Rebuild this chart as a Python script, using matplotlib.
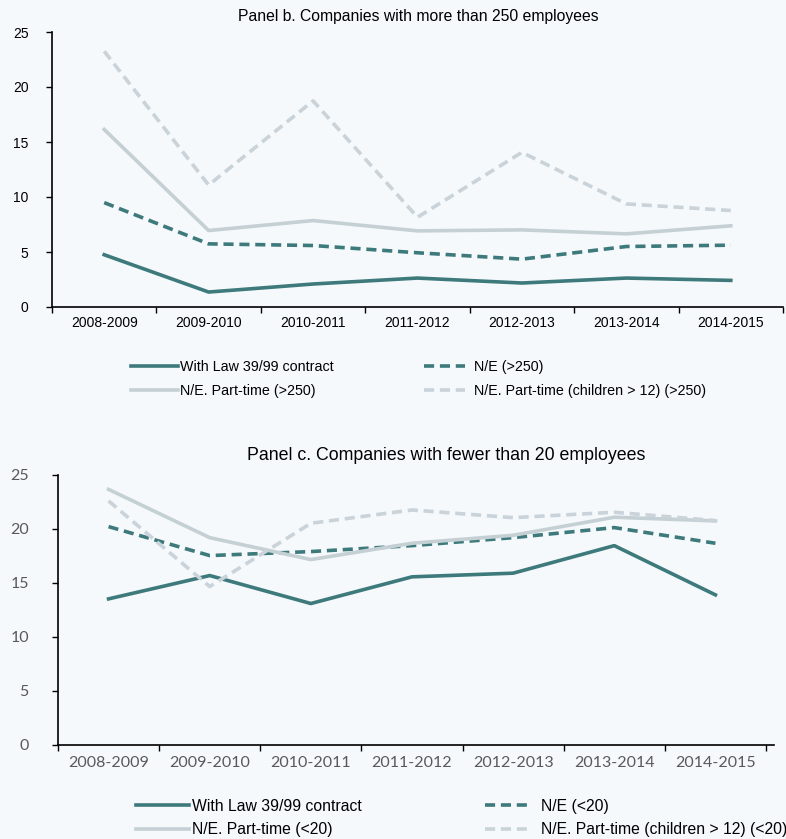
import matplotlib
matplotlib.use("Agg")
import matplotlib.pyplot as plt
import numpy as np

periods = ["2008-2009", "2009-2010", "2010-2011", "2011-2012", "2012-2013", "2013-2014", "2014-2015"]

# Panel b (>250 employees)
b_law = [4.75, 1.36, 2.09, 2.63, 2.18, 2.63, 2.42]
b_ne = [9.49, 5.74, 5.59, 4.93, 4.35, 5.50, 5.62]
b_pt = [16.14, 6.95, 7.86, 6.92, 7.01, 6.65, 7.38]
b_ch = [23.25, 11.09, 18.74, 8.16, 14.06, 9.37, 8.77]
b_labels = ["With Law 39/99 contract", "N/E (>250)", "N/E. Part-time (>250)",
            "N/E. Part-time (children > 12) (>250)"]

# Panel c (<20 employees)
c_law = [13.53, 15.69, 13.10, 15.57, 15.91, 18.46, 13.90]
c_ne = [20.22, 17.54, 17.91, 18.46, 19.20, 20.13, 18.68]
c_pt = [23.67, 19.20, 17.17, 18.68, 19.42, 21.09, 20.75]
c_ch = [22.60, 14.67, 20.53, 21.76, 21.05, 21.55, 20.78]
c_labels = ["With Law 39/99 contract", "N/E (<20)", "N/E. Part-time (<20)",
            "N/E. Part-time (children > 12) (<20)"]

yticks = [0, 5, 10, 15, 20, 25]

BG = "#f5f9fb"
DARK = "#3e7a7c"
LIGHT = "#c5d0d5"
LIGHTD = "#c9d3d9"
W, H = 786, 839

fig = plt.figure(figsize=(W / 100, H / 100), dpi=100, facecolor=BG)

def px_axes(left, right, top, bottom):
    return fig.add_axes([left / W, (H - bottom) / H, (right - left) / W, (bottom - top) / H])

def draw_panel(ax, series, labels, tick_font, tick_fs, tick_color,
               xext, ytick_pad, xtick_pad):
    x = np.arange(len(periods))
    lw = 2.6
    styles = [
        dict(color=DARK, lw=lw, ls="-"),
        dict(color=DARK, lw=lw, ls=(0, (2.8, 1.6))),
        dict(color=LIGHT, lw=lw, ls="-"),
        dict(color=LIGHTD, lw=lw, ls=(0, (2.8, 1.6))),
    ]
    lines = []
    for s, lab, st in zip(series, labels, styles):
        ln, = ax.plot(x, s, label=lab, solid_joinstyle="round", dash_capstyle="butt", **st)
        lines.append(ln)
    ax.set_facecolor(BG)
    ax.set_xlim(-0.5, 6.5 + xext)
    ax.set_ylim(0, 25)
    ax.set_yticks(yticks)
    ax.set_xticks(x)
    ax.set_xticklabels(periods)
    ax.set_xticks(np.arange(-0.5, 7.0, 1.0), minor=True)
    ax.tick_params(axis="x", which="major", length=0, pad=xtick_pad, labelsize=tick_fs,
                   labelcolor=tick_color)
    ax.tick_params(axis="x", which="minor", length=4, width=1, direction="out", color="black")
    ax.tick_params(axis="y", length=4, width=1, direction="out", pad=ytick_pad,
                   labelsize=tick_fs, labelcolor=tick_color)
    for lab in ax.get_xticklabels() + ax.get_yticklabels():
        lab.set_fontfamily(tick_font)
    for sp in ["top", "right"]:
        ax.spines[sp].set_visible(False)
    for sp in ["left", "bottom"]:
        ax.spines[sp].set_linewidth(1.2)
        ax.spines[sp].set_color("black")
    return lines

# Panel b
axb = px_axes(52, 783, 32, 307)
lb = draw_panel(axb, [b_law, b_ne, b_pt, b_ch], b_labels, "Liberation Sans", 10,
                "black", 0.0, 13, 6.5)
fig.text(418 / W, 1 - 16 / H, "Panel b. Companies with more than 250 employees",
         ha="center", va="center", fontsize=11.3, family="Liberation Sans", color="black")

# Panel c
axc = px_axes(58, 774, 475, 745)
xext = (774 - 766) / ((766 - 58) / 7.0)
lc = draw_panel(axc, [c_law, c_ne, c_pt, c_ch], c_labels, "Lato", 11.5,
                "#595959", xext, 17, 8)
fig.text(446 / W, 1 - 455 / H, "Panel c. Companies with fewer than 20 employees",
         ha="center", va="center", fontsize=12.8, family="Liberation Sans", color="black")

def column_legend(handles, labels, x, ymid, fs, hl, tp, spacing):
    leg = fig.legend(handles, labels, loc="center left",
                     bbox_to_anchor=(x / W, 1 - ymid / H), frameon=False,
                     handlelength=hl, handletextpad=tp, labelspacing=spacing,
                     borderpad=0, borderaxespad=0, prop={"family": "Liberation Sans", "size": fs})
    return leg

column_legend([lb[0], lb[2]], [b_labels[0], b_labels[2]], 131, 379, 10.3, 3.3, 0.15, 0.72)
column_legend([lb[1], lb[3]], [b_labels[1], b_labels[3]], 424, 379, 10.3, 2.87, 0.63, 0.72)
column_legend([lc[0], lc[2]], [c_labels[0], c_labels[2]], 136, 818, 11.3, 3.4, 0.2, 0.52)
column_legend([lc[1], lc[3]], [c_labels[1], c_labels[3]], 485, 818, 11.3, 2.9, 0.64, 0.52)

fig.savefig("out.png", dpi=100, facecolor=BG)
